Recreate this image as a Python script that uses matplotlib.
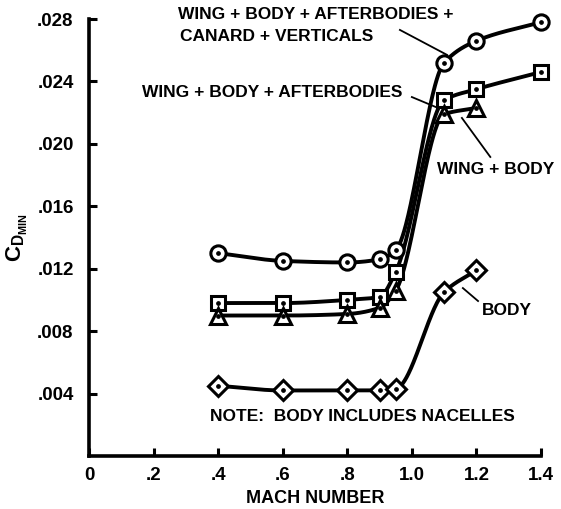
import numpy as np
import matplotlib
matplotlib.use("Agg")
import matplotlib.pyplot as plt

# ---- data ----
mach_full = [0.4, 0.6, 0.8, 0.9, 0.95, 1.1, 1.2, 1.4]
cd_all = [0.0130, 0.0125, 0.0124, 0.0126, 0.0132, 0.0252, 0.0266, 0.0278]   # wing+body+afterbodies+canard+verticals
cd_wba = [0.0098, 0.0098, 0.0100, 0.0102, 0.0118, 0.0228, 0.0235, 0.0246]   # wing+body+afterbodies
mach_short = [0.4, 0.6, 0.8, 0.9, 0.95, 1.1, 1.2]
cd_wb = [0.0090, 0.0090, 0.0091, 0.0095, 0.0106, 0.0219, 0.0223]            # wing+body
cd_body = [0.0045, 0.0042, 0.0042, 0.0042, 0.0043, 0.0105, 0.0119]          # body

xticks = [0, 0.2, 0.4, 0.6, 0.8, 1.0, 1.2, 1.4]
xticklabels = ["0", ".2", ".4", ".6", ".8", "1.0", "1.2", "1.4"]
yticks = [0.004, 0.008, 0.012, 0.016, 0.020, 0.024, 0.028]
yticklabels = [".004", ".008", ".012", ".016", ".020", ".024", ".028"]


def pchip(x, y, xs):
    x = np.asarray(x, float); y = np.asarray(y, float)
    h = np.diff(x); d = np.diff(y) / h
    n = len(x); m = np.zeros(n)
    for k in range(1, n - 1):
        if d[k - 1] * d[k] > 0:
            w1 = 2 * h[k] + h[k - 1]; w2 = h[k] + 2 * h[k - 1]
            m[k] = (w1 + w2) / (w1 / d[k - 1] + w2 / d[k])
    m[0] = d[0]; m[-1] = d[-1]
    out = np.empty_like(xs)
    for i, xv in enumerate(xs):
        k = min(np.searchsorted(x, xv) - 1, n - 2); k = max(k, 0)
        t = (xv - x[k]) / h[k]
        h00 = 2*t**3 - 3*t**2 + 1; h10 = t**3 - 2*t**2 + t
        h01 = -2*t**3 + 3*t**2; h11 = t**3 - t**2
        out[i] = h00*y[k] + h10*h[k]*m[k] + h01*y[k+1] + h11*h[k]*m[k+1]
    return out


plt.rcParams['font.family'] = ['Liberation Sans', 'DejaVu Sans']
plt.rcParams['font.weight'] = 'bold'
plt.rcParams['mathtext.fontset'] = 'custom'
plt.rcParams['mathtext.bf'] = 'Liberation Sans:bold'
plt.rcParams['mathtext.rm'] = 'Liberation Sans:bold'

fig = plt.figure(figsize=(5.61, 5.09), dpi=100)
ax = fig.add_axes([89/561, 1-456/509, (541-89)/561, (456-19)/509])

series = [
    (mach_full, cd_all, 'o', 11),
    (mach_full, cd_wba, 's', 10.5),
    (mach_short, cd_wb, '^', 11),
    (mach_short, cd_body, 'D', 10),
]
for xs, ys, mk, ms in series:
    xx = np.linspace(xs[0], xs[-1], 400)
    ax.plot(xx, pchip(xs, ys, xx), color='black', lw=2.8, zorder=2, solid_capstyle='round')
    ax.plot(xs, ys, linestyle='none', marker=mk, ms=ms, mfc='white', mec='black', mew=2.2,
            zorder=3, clip_on=False)
    ax.plot(xs, ys, linestyle='none', marker='o', ms=2.4, color='black', zorder=4, clip_on=False)

ax.set_xlim(0, 1.4)
ax.set_ylim(0, 0.028)
ax.set_xticks(xticks)
ax.set_xticklabels(xticklabels)
ax.set_yticks(yticks)
ax.set_yticklabels(yticklabels)
for s in ['top', 'right']:
    ax.spines[s].set_visible(False)
for s in ['left', 'bottom']:
    ax.spines[s].set_linewidth(2.6)
ax.tick_params(direction='in', length=6, width=2.2, labelsize=13.5)
ax.tick_params(axis='y', pad=11)
ax.tick_params(axis='x', pad=8)
ax.set_xlabel('MACH NUMBER', fontsize=13, fontweight='bold', labelpad=4)
ax.set_ylabel(r'$\mathbf{C_{D_{MIN}}}$', fontsize=16, labelpad=5)

fs = 12.5
ax.text(0.276, 0.02826, 'WING + BODY + AFTERBODIES +', fontsize=fs, fontweight='bold',
        ha='left', va='center', clip_on=False)
ax.text(0.282, 0.02685, 'CANARD + VERTICALS', fontsize=fs, fontweight='bold', ha='left', va='center')
ax.text(0.164, 0.02326, 'WING + BODY + AFTERBODIES', fontsize=fs, fontweight='bold', ha='left', va='center')
ax.text(1.078, 0.01833, 'WING + BODY', fontsize=fs, fontweight='bold', ha='left', va='center')
ax.text(1.217, 0.00935, 'BODY', fontsize=fs, fontweight='bold', ha='left', va='center')
ax.text(0.375, 0.0025, 'NOTE:  BODY INCLUDES NACELLES', fontsize=fs, fontweight='bold', ha='left', va='center')

leaders = [((0.963, 0.0273), (1.109, 0.0257)),
           ((1.0, 0.0230), (1.081, 0.0223)),
           ((1.243, 0.01916), (1.155, 0.02166)),
           ((1.158, 0.01076), (1.205, 0.00993))]
for (x0, y0), (x1, y1) in leaders:
    ax.plot([x0, x1], [y0, y1], color='black', lw=1.3, zorder=1)

fig.savefig('out.png', dpi=100)
